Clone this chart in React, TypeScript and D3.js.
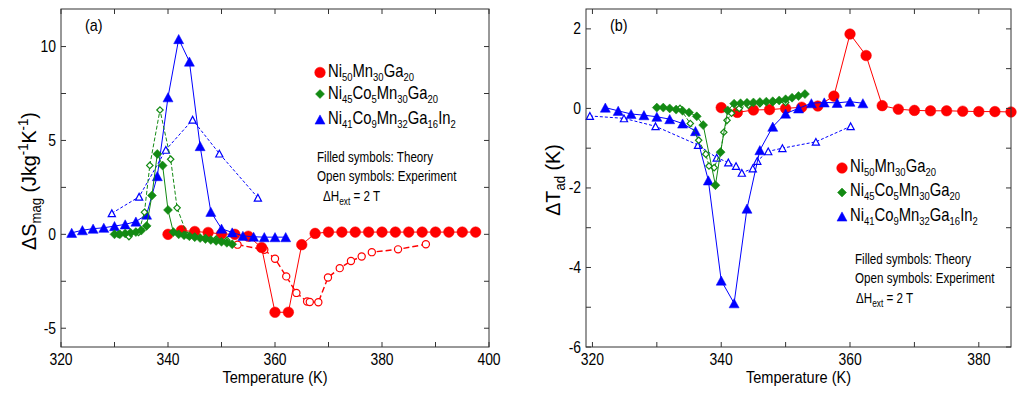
import * as d3 from "d3";
import type { ReactNode } from "react";

// ---------- data: panel (a) ΔS_mag ----------
const aRedT = [340, 342.5, 345, 347.5, 350, 352.5, 355, 357.5, 360, 362.5, 365, 367.5, 370, 372.5, 375, 377.5, 380, 382.5, 385, 387.5, 390, 392.5, 395, 397.5];
const aRedV = [0.0, 0.2, 0.15, 0.1, 0.02, 0.0, -0.1, -0.7, -4.15, -4.15, -0.55, 0.05, 0.12, 0.12, 0.12, 0.12, 0.12, 0.12, 0.12, 0.12, 0.12, 0.12, 0.12, 0.12];
const aRedExpT = [353, 358, 360, 362.1, 364, 366, 366.5, 368.1, 369.9, 372.1, 374.2, 376.2, 378.1, 383, 388.2];
const aRedExpV = [-0.55, -0.82, -1.3, -2.24, -3.12, -3.58, -3.6, -3.62, -2.3, -1.8, -1.42, -1.18, -0.95, -0.8, -0.53];
const aGreenT = [330, 331, 332, 333, 334, 335, 336, 337, 338, 339, 340, 341, 342, 343, 344, 345, 346, 347, 348, 349, 350, 351, 352];
const aGreenV = [0.0, 0.0, 0.05, 0.08, 0.12, 0.2, 0.45, 2.07, 4.28, 3.66, 1.3, 0.12, 0.0, -0.05, -0.1, -0.15, -0.2, -0.25, -0.3, -0.35, -0.4, -0.45, -0.53];
const aGreenExpT = [330.7, 332.7, 334.5, 335.6, 336.6, 338.5, 340.5, 341.7, 343.6, 345, 347, 349, 351];
const aGreenExpV = [0.0, -0.12, 0.1, 1.18, 3.67, 6.62, 4.0, 1.41, -0.05, -0.12, -0.18, -0.25, -0.32];
const aBlueT = [322, 324, 326, 328, 330, 332, 334, 336, 338, 340, 342, 344, 346, 348, 350, 352, 354, 356, 358, 360, 362];
const aBlueV = [0.08, 0.22, 0.3, 0.35, 0.44, 0.53, 0.68, 1.05, 3.1, 7.3, 10.4, 9.2, 4.7, 1.2, 0.3, 0.1, -0.08, -0.13, -0.15, -0.15, -0.15];
const aBlueExpT = [329.5, 334.6, 339.6, 344.6, 349.6, 356.8];
const aBlueExpV = [1.12, 2.0, 4.5, 6.1, 4.3, 1.95];

// ---------- data: panel (b) ΔT_ad ----------
const bRedT = [340, 342.5, 345, 347.5, 350, 352.5, 355, 357.5, 360, 362.5, 365, 367.5, 370, 372.5, 375, 377.5, 380, 382.5, 385];
const bRedV = [0.02, -0.1, -0.04, -0.03, 0.0, 0.03, 0.06, 0.31, 1.87, 1.33, 0.07, -0.02, -0.05, -0.06, -0.06, -0.07, -0.08, -0.08, -0.09];
const bGreenT = [330, 331, 332, 333, 334, 335, 336.2, 337.2, 339.1, 339.9, 341, 342, 343, 344, 345, 346, 347, 348, 349, 350, 351, 352, 353];
const bGreenV = [0.02, 0.02, 0.0, -0.03, -0.06, -0.1, -0.2, -0.42, -1.93, -1.1, -0.05, 0.12, 0.13, 0.14, 0.15, 0.16, 0.17, 0.18, 0.2, 0.23, 0.27, 0.31, 0.36];
const bGreenExpT = [333.6, 335.2, 336.5, 337.6, 338.1, 338.9, 339.9, 340.4, 340.9, 341.6, 342.8, 344.2, 346, 348, 350];
const bGreenExpV = [0.0, -0.38, -0.8, -1.15, -1.45, -1.49, -1.09, -0.6, -0.3, -0.12, 0.0, 0.08, 0.12, 0.15, 0.15];
const bBlueT = [322, 324, 326, 328, 330, 332, 334, 336, 338, 340, 342, 344, 346, 348, 350, 352, 354, 356, 358, 360, 362];
const bBlueV = [0.02, -0.06, -0.14, -0.17, -0.21, -0.27, -0.38, -0.57, -1.81, -4.33, -4.9, -2.52, -1.05, -0.46, -0.13, 0.0, 0.13, 0.15, 0.14, 0.17, 0.13];
const bBlueExpT = [319.6, 324.9, 329.8, 336.4, 339.3, 341.1, 342.3, 343.2, 344.9, 345.6, 347.3, 349.5, 354.7, 360.1];
const bBlueExpV = [-0.19, -0.25, -0.45, -0.92, -1.24, -1.36, -1.45, -1.62, -1.51, -1.32, -1.08, -1.0, -0.84, -0.45];

// ---------- ticks ----------
const aXTicks = [320, 330, 340, 350, 360, 370, 380, 390, 400];
const aXLabels = [320, 340, 360, 380, 400];
const aYTicks = [-5, -2.5, 0, 2.5, 5, 7.5, 10];
const aYLabels = [-5, 0, 5, 10];
const bXTicks = [320, 330, 340, 350, 360, 370, 380];
const bXLabels = [320, 340, 360, 380];
const bYTicks = [-6, -5, -4, -3, -2, -1, 0, 1, 2];
const bYLabels = [-6, -4, -2, 0, 2];

const legendNames = [
  ["Ni", "50", "Mn", "30", "Ga", "20"],
  ["Ni", "45", "Co", "5", "Mn", "30", "Ga", "20"],
  ["Ni", "41", "Co", "9", "Mn", "32", "Ga", "16", "In", "2"],
];

const RED = "#ff0000";
const GREEN = "#138a13";
const BLUE = "#0000ff";
const AXIS = "#333";
const FONT = "'Liberation Sans', Arial, Helvetica, sans-serif";

type Shape = "circle" | "diamond" | "triangle";
type Series = { T: number[]; V: number[]; shape: Shape; color: string; filled: boolean; dash?: string; lw: number };

// text squeezed horizontally (the original uses a narrow Helvetica)
function ST({ x, y, sx, size, anchor, rotate, children }: { x: number; y: number; sx: number; size: number; anchor?: string; rotate?: boolean; children: ReactNode }) {
  const tr = rotate ? `translate(${x},${y}) rotate(-90) scale(${sx},1)` : `translate(${x},${y}) scale(${sx},1)`;
  return (
    <g transform={tr}>
      <text x={0} y={0} fontSize={size} fontFamily={FONT} fill="#000" textAnchor={anchor ?? "start"}>
        {children}
      </text>
    </g>
  );
}

function Marker({ shape, cx, cy, filled, color }: { shape: Shape; cx: number; cy: number; filled: boolean; color: string }) {
  const fill = filled ? color : "white";
  const sw = filled ? 0.5 : 1.2;
  if (shape === "circle") {
    return <circle cx={cx} cy={cy} r={filled ? 5.3 : 3.6} fill={fill} stroke={color} strokeWidth={sw} />;
  }
  if (shape === "diamond") {
    const s = filled ? 4.5 : 3.2;
    return <path d={`M${cx},${cy - s}L${cx + s},${cy}L${cx},${cy + s}L${cx - s},${cy}Z`} fill={fill} stroke={color} strokeWidth={sw} />;
  }
  const w = filled ? 5 : 3.6;
  const h = filled ? 4.6 : 3.4;
  return <path d={`M${cx},${cy - h}L${cx + w},${cy + h}L${cx - w},${cy + h}Z`} fill={fill} stroke={color} strokeWidth={sw} />;
}

// formula with subscripted numbers
function Formula({ x, y, parts, size }: { x: number; y: number; parts: string[]; size: number }) {
  const sub = size * 0.64;
  const shift = 4;
  return (
    <ST x={x} y={y} sx={0.8} size={size}>
      {parts.map((p, i) => {
        const isSub = i % 2 === 1;
        const prevSub = i > 0 && (i - 1) % 2 === 1;
        return (
          <tspan key={i} fontSize={isSub ? sub : size} dy={isSub ? shift : prevSub ? -shift : 0}>
            {p}
          </tspan>
        );
      })}
    </ST>
  );
}

function Notes({ x, y, dx }: { x: number; y: number; dx: number }) {
  return (
    <g>
      <ST x={x} y={y} sx={0.83} size={14}>Filled symbols: Theory</ST>
      <ST x={x} y={y + 19} sx={0.83} size={14}>Open symbols: Experiment</ST>
      <ST x={x + dx} y={y + 39} sx={0.83} size={14}>
        ΔH<tspan fontSize={10} dy={4}>ext</tspan>
        <tspan dy={-4}> = 2 T</tspan>
      </ST>
    </g>
  );
}

type PanelCfg = {
  left: number; right: number; top: number; bottom: number;
  xDomain: [number, number]; yDomain: [number, number];
  xTicks: number[]; xLabels: number[]; yTicks: number[]; yLabels: number[];
  series: Series[]; tag: string;
};

function Panel({ cfg }: { cfg: PanelCfg }) {
  const x = d3.scaleLinear().domain(cfg.xDomain).range([cfg.left, cfg.right]);
  const y = d3.scaleLinear().domain(cfg.yDomain).range([cfg.bottom, cfg.top]);
  const line = d3.line<[number, number]>().x((d) => d[0]).y((d) => d[1]);
  const tl = 5;
  return (
    <g>
      {cfg.series.map((s, si) => {
        const pts = s.T.map((t, i) => [x(t), y(s.V[i])] as [number, number]);
        return (
          <g key={si}>
            <path d={line(pts) ?? ""} fill="none" stroke={s.color} strokeWidth={s.lw} strokeDasharray={s.dash} />
            {pts.map((p, i) => (
              <Marker key={i} shape={s.shape} cx={p[0]} cy={p[1]} filled={s.filled} color={s.color} />
            ))}
          </g>
        );
      })}
      <rect x={cfg.left} y={cfg.top} width={cfg.right - cfg.left} height={cfg.bottom - cfg.top} fill="none" stroke={AXIS} strokeWidth={1} />
      {cfg.xTicks.map((t) => (
        <g key={"xt" + t} stroke={AXIS}>
          <line x1={x(t)} x2={x(t)} y1={cfg.bottom} y2={cfg.bottom - tl} />
          <line x1={x(t)} x2={x(t)} y1={cfg.top} y2={cfg.top + tl} />
        </g>
      ))}
      {cfg.yTicks.map((t) => (
        <g key={"yt" + t} stroke={AXIS}>
          <line x1={cfg.left} x2={cfg.left + tl} y1={y(t)} y2={y(t)} />
          <line x1={cfg.right} x2={cfg.right - tl} y1={y(t)} y2={y(t)} />
        </g>
      ))}
      {cfg.xLabels.map((t) => (
        <ST key={"xl" + t} x={x(t)} y={cfg.bottom + 18} sx={0.87} size={16} anchor="middle">{t}</ST>
      ))}
      {cfg.yLabels.map((t) => (
        <ST key={"yl" + t} x={cfg.left - 5} y={y(t) + 5.5} sx={0.87} size={16} anchor="end">{t}</ST>
      ))}
      <ST x={(cfg.left + cfg.right) / 2} y={383} sx={0.91} size={16} anchor="middle">Temperature (K)</ST>
      <ST x={cfg.left + 24} y={31} sx={0.9} size={16}>{cfg.tag}</ST>
    </g>
  );
}

const mk = (T: number[], V: number[], shape: Shape, color: string, filled: boolean, dash?: string, lw = 1): Series => ({ T, V, shape, color, filled, dash, lw });

const panelA: PanelCfg = {
  left: 61, right: 489, top: 9, bottom: 347,
  xDomain: [320, 400], yDomain: [-6, 12],
  xTicks: aXTicks, xLabels: aXLabels, yTicks: aYTicks, yLabels: aYLabels,
  tag: "(a)",
  series: [
    mk(aRedExpT, aRedExpV, "circle", RED, false, "6,3", 1.4),
    mk(aRedT, aRedV, "circle", RED, true),
    mk(aBlueExpT, aBlueExpV, "triangle", BLUE, false, "3,2"),
    mk(aBlueT, aBlueV, "triangle", BLUE, true),
    mk(aGreenExpT, aGreenExpV, "diamond", GREEN, false, "4,2"),
    mk(aGreenT, aGreenV, "diamond", GREEN, true),
  ],
};

const panelB: PanelCfg = {
  left: 586, right: 1011, top: 9, bottom: 347,
  xDomain: [319, 385], yDomain: [-6, 2.5],
  xTicks: bXTicks, xLabels: bXLabels, yTicks: bYTicks, yLabels: bYLabels,
  tag: "(b)",
  series: [
    mk(bRedT, bRedV, "circle", RED, true),
    mk(bBlueExpT, bBlueExpV, "triangle", BLUE, false, "3,2"),
    mk(bBlueT, bBlueV, "triangle", BLUE, true),
    mk(bGreenExpT, bGreenExpV, "diamond", GREEN, false, "4,2"),
    mk(bGreenT, bGreenV, "diamond", GREEN, true),
  ],
};

const legendShapes: Shape[] = ["circle", "diamond", "triangle"];
const legendColors = [RED, GREEN, BLUE];

function Legend({ x, ys, ty }: { x: number; ys: number[]; ty: number[] }) {
  return (
    <g>
      {legendNames.map((parts, i) => (
        <g key={i}>
          <Marker shape={legendShapes[i]} cx={x} cy={ys[i]} filled color={legendColors[i]} />
          <Formula x={x + 8} y={ty[i]} parts={parts} size={18.5} />
        </g>
      ))}
    </g>
  );
}

export default function App() {
  return (
    <svg width={1024} height={395} viewBox="0 0 1024 395" style={{ position: "absolute", left: 0, top: 0, background: "#fff" }}>
      <rect width={1024} height={395} fill="#fff" />
      <Panel cfg={panelA} />
      <Panel cfg={panelB} />
      <Legend x={320} ys={[72.5, 94, 119.5]} ty={[77, 99, 124]} />
      <Legend x={842} ys={[168, 192.5, 216.5]} ty={[172, 196, 221]} />
      <Notes x={317} y={162} dx={6} />
      <Notes x={855} y={264} dx={1} />
      <ST x={36} y={181} sx={0.94} size={21} anchor="middle" rotate>
        ΔS<tspan fontSize={14} dy={5}>mag</tspan>
        <tspan dy={-5}> (Jkg</tspan>
        <tspan fontSize={14} dy={-8}>-1</tspan>
        <tspan dy={8}>K</tspan>
        <tspan fontSize={14} dy={-8}>-1</tspan>
        <tspan dy={8}>)</tspan>
      </ST>
      <ST x={560} y={180} sx={0.94} size={21} anchor="middle" rotate>
        ΔT<tspan fontSize={14} dy={5}>ad</tspan>
        <tspan dy={-5}> (K)</tspan>
      </ST>
    </svg>
  );
}
